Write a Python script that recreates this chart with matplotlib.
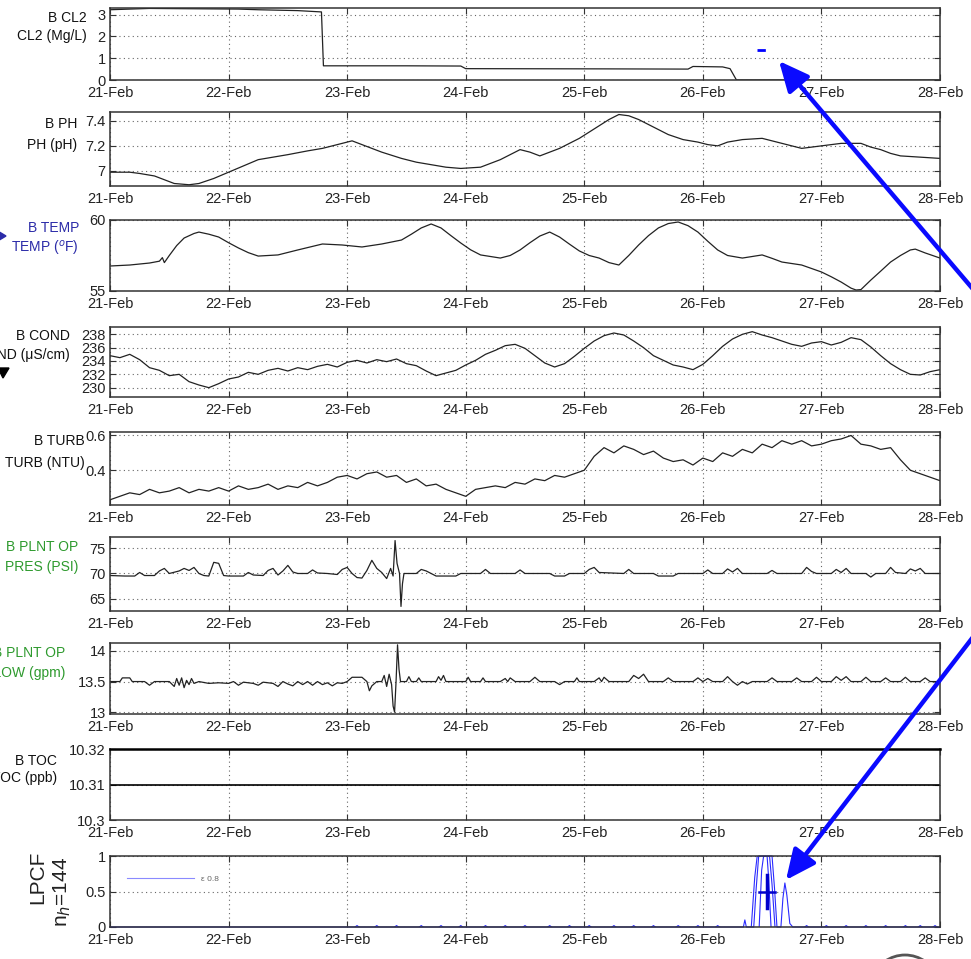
import matplotlib
matplotlib.use('Agg')
import matplotlib.pyplot as plt
import matplotlib.dates as mdates
from matplotlib.patches import FancyArrowPatch, Polygon, Arc
from matplotlib.ticker import FormatStrFormatter
from datetime import datetime
import numpy as np

plt.rcParams['font.family'] = ['Liberation Sans', 'DejaVu Sans']

# ---- data (hours after 21-Feb 00:00) ----
cl2_pts = [(0, 3.22), (4, 3.25), (8, 3.28), (14, 3.27), (20, 3.26), (26, 3.25), (30, 3.22),
           (34, 3.2), (38, 3.18), (42.8, 3.12), (43.2, 0.65), (60, 0.65), (71, 0.64),
           (72, 0.52), (100, 0.51), (117, 0.5), (118, 0.62), (124, 0.6), (125.5, 0.52),
           (126.8, 0.0), (168, 0.0)]
cl2_flag_h = [131.0, 133.2]
cl2_flag_v = [1.38, 1.38]

ph_pts = [(0, 6.99), (4, 6.99), (6, 6.98), (9, 6.96), (13, 6.90), (16, 6.89), (18, 6.90),
          (21, 6.94), (24, 6.99), (27, 7.04), (30, 7.09), (33, 7.11), (36, 7.13), (40, 7.16),
          (43, 7.18), (46, 7.21), (49, 7.24), (51, 7.21), (53, 7.18), (55, 7.15), (59, 7.10),
          (62, 7.07), (65, 7.05), (68, 7.03), (71, 7.02), (75, 7.03), (77, 7.06), (79, 7.09),
          (81, 7.13), (83, 7.17), (85, 7.15), (87, 7.12), (89, 7.15), (91, 7.18), (93, 7.22),
          (95, 7.26), (97, 7.31), (99, 7.36), (101, 7.41), (103, 7.45), (105, 7.44),
          (107, 7.41), (109, 7.37), (111, 7.33), (113, 7.29), (116, 7.25), (119, 7.23),
          (121, 7.21), (123, 7.20), (125, 7.23), (128, 7.25), (132, 7.26), (136, 7.22),
          (140, 7.18), (142, 7.19), (144, 7.20), (148, 7.22), (152, 7.22), (154, 7.19),
          (156, 7.17), (158, 7.14), (160, 7.12), (164, 7.11), (168, 7.10)]

temp_pts = [(0, 56.76), (4, 56.83), (8, 56.97), (10, 57.1), (10.6, 57.35), (11, 57.0),
            (12, 57.5), (13.5, 58.2), (15, 58.73), (17, 59.05), (18, 59.15), (20, 59.0),
            (22, 58.8), (24, 58.4), (26, 58.03), (28, 57.7), (30, 57.46), (34, 57.54),
            (38, 57.89), (43, 58.31), (47, 58.24), (51, 58.10), (55, 58.31), (59, 58.59),
            (61, 59.0), (63, 59.44), (65, 59.72), (67, 59.44), (69, 58.9), (71, 58.38),
            (73, 57.9), (75, 57.54), (79, 57.32), (81, 57.5), (83, 57.89), (85, 58.4),
            (87, 58.87), (89, 59.15), (91, 58.80), (93, 58.3), (95, 57.82), (97, 57.5),
            (99, 57.32), (101, 57.0), (103, 56.83), (105, 57.5), (107, 58.24), (109, 58.9),
            (111, 59.44), (113, 59.75), (115, 59.86), (117, 59.6), (119, 59.15), (121, 58.5),
            (123, 57.89), (125, 57.5), (128, 57.32), (132, 57.54), (134, 57.3), (136, 57.04),
            (140, 56.83), (144, 56.34), (146, 56.0), (148, 55.63), (150, 55.2), (151, 55.07),
            (152, 55.1), (154, 55.77), (156, 56.4), (158, 57.04), (160, 57.5), (162, 57.89),
            (163, 57.95), (165, 57.68), (168, 57.32)]

cond = [234.8, 234.5, 235.0, 234.2, 233.0, 232.6, 231.8, 232.0, 230.9, 230.4,
        230.0, 230.6, 231.3, 231.6, 232.3, 232.0, 232.6, 232.9, 232.5, 233.0,
        232.7, 233.2, 233.5, 233.1, 233.8, 234.1, 233.7, 234.2, 233.9, 234.3,
        233.6, 233.3, 232.5, 231.8, 232.2, 232.6, 233.4, 234.1, 235.0, 235.6,
        236.3, 236.5, 235.9, 234.8, 233.7, 233.1, 233.6, 234.7, 235.9, 237.0,
        237.8, 238.2, 237.9, 237.0, 236.0, 234.8, 234.1, 233.4, 233.1, 232.7,
        233.5, 234.8, 236.2, 237.3, 238.0, 238.4, 237.9, 237.5, 237.0, 236.5,
        236.2, 236.7, 236.9, 236.4, 236.8, 237.5, 237.2, 236.1, 234.8, 233.6,
        232.7, 232.0, 231.9, 232.4, 232.7]

turb = [0.23, 0.25, 0.27, 0.26, 0.29, 0.27, 0.28, 0.30, 0.27, 0.29,
        0.28, 0.30, 0.28, 0.31, 0.29, 0.30, 0.32, 0.29, 0.31, 0.30,
        0.33, 0.31, 0.33, 0.36, 0.37, 0.35, 0.38, 0.39, 0.36, 0.37,
        0.33, 0.35, 0.31, 0.32, 0.29, 0.27, 0.25, 0.29, 0.30, 0.31,
        0.30, 0.33, 0.32, 0.35, 0.34, 0.37, 0.36, 0.38, 0.40, 0.48,
        0.53, 0.50, 0.54, 0.52, 0.49, 0.51, 0.47, 0.45, 0.46, 0.43,
        0.47, 0.45, 0.50, 0.48, 0.52, 0.50, 0.55, 0.53, 0.57, 0.55,
        0.57, 0.54, 0.55, 0.57, 0.58, 0.60, 0.55, 0.54, 0.52, 0.53,
        0.46, 0.40, 0.38, 0.36, 0.34]
step_hours = np.arange(0, 169, 2)

pres_pts = [(0, 69.6), (3, 69.5), (5, 69.5), (6, 70.2), (7, 69.6), (9, 69.6), (10, 70.5),
            (11, 71.0), (12, 70.0), (14, 70.5), (15, 71.0), (16, 70.6), (17, 71.2), (18, 70.0),
            (19, 69.6), (20, 69.5), (21, 72.2), (22, 72.0), (23, 69.6), (24, 69.5), (27, 69.5),
            (28, 70.2), (29, 69.7), (31, 69.6), (32, 70.6), (33, 71.0), (34, 69.7), (35, 70.5),
            (36, 71.6), (37, 70.3), (38, 70.0), (40, 70.0), (41, 70.7), (42, 70.1), (44, 70.0),
            (46, 69.8), (47, 70.8), (48, 71.2), (49, 70.0), (50, 69.2), (51, 69.1), (52, 70.6),
            (53, 72.6), (54, 71.0), (55, 70.2), (56, 69.0), (56.8, 71.0), (57.3, 69.5),
            (57.7, 76.5), (58.1, 72.0), (58.6, 70.0), (58.9, 63.5), (59.2, 68.0), (59.5, 70.0),
            (62, 70.0), (63, 70.8), (64, 70.5), (65, 70.0), (66, 69.5), (70, 69.5), (71, 70.0),
            (75, 70.0), (76, 70.8), (77, 70.0), (82, 70.0), (83, 70.7), (84, 70.0), (89, 70.0),
            (90, 69.5), (92, 69.5), (93, 70.0), (96, 70.0), (97, 70.8), (98, 71.2), (99, 70.2),
            (104, 70.0), (105, 70.8), (106, 70.0), (110, 70.0), (111, 69.5), (114, 69.5),
            (115, 70.0), (120, 70.0), (121, 70.7), (122, 70.0), (124, 70.0), (125, 70.9),
            (126, 70.3), (127, 71.0), (128, 70.0), (133, 70.0), (134, 70.6), (135, 70.0),
            (140, 70.0), (141, 71.2), (142, 70.4), (143, 70.0), (146, 70.0), (147, 70.8),
            (148, 70.2), (149, 71.0), (150, 70.0), (153, 70.0), (154, 69.3), (155, 70.0),
            (157, 70.0), (158, 71.2), (159, 70.2), (161, 70.0), (162, 70.9), (163, 70.5),
            (164, 71.0), (165, 70.0), (168, 70.0)]

flow_pts = [(0, 13.5), (2, 13.5), (2.5, 13.56), (4, 13.56), (4.5, 13.5), (7, 13.5), (8, 13.44),
            (9, 13.5), (12, 13.5), (13, 13.42), (13.5, 13.55), (14, 13.44), (14.5, 13.56),
            (15, 13.4), (15.5, 13.52), (16, 13.45), (16.5, 13.55), (17, 13.47), (18, 13.5),
            (20, 13.47), (22, 13.48), (24, 13.47), (25, 13.5), (26, 13.44), (27, 13.49),
            (29, 13.47), (30, 13.44), (31, 13.49), (33, 13.47), (34, 13.42), (35, 13.5),
            (36, 13.46), (37, 13.43), (38, 13.5), (39, 13.45), (40, 13.5), (41, 13.44),
            (42, 13.5), (43, 13.45), (44, 13.48), (45, 13.43), (46, 13.48), (47, 13.47),
            (48, 13.5), (49, 13.57), (51, 13.57), (52, 13.5), (52.5, 13.35), (53, 13.43),
            (54, 13.5), (55, 13.5), (55.5, 13.6), (56, 13.42), (56.5, 13.62), (57, 13.45),
            (57.3, 13.1), (57.6, 13.0), (57.9, 13.5), (58.2, 14.1), (58.5, 13.7), (58.8, 13.5),
            (60, 13.5), (60.5, 13.58), (61, 13.5), (62, 13.5), (62.5, 13.56), (63, 13.5),
            (66, 13.5), (66.5, 13.58), (67, 13.52), (67.5, 13.6), (68, 13.5), (72, 13.5),
            (72.5, 13.57), (73, 13.5), (75, 13.5), (75.5, 13.56), (76, 13.5), (79, 13.5),
            (80, 13.55), (80.5, 13.5), (81, 13.56), (82, 13.5), (85, 13.5), (86, 13.57),
            (87, 13.5), (90, 13.5), (91, 13.45), (92, 13.5), (94, 13.5), (94.5, 13.56),
            (95, 13.5), (98, 13.5), (99, 13.56), (99.5, 13.5), (100, 13.57), (101, 13.5),
            (105, 13.5), (106, 13.6), (107, 13.55), (108, 13.62), (109, 13.5), (112, 13.5),
            (113, 13.56), (114, 13.5), (118, 13.5), (119, 13.56), (120, 13.5), (121, 13.55),
            (122, 13.5), (124, 13.5), (125, 13.58), (126, 13.5), (127, 13.44), (128, 13.5),
            (129, 13.46), (130, 13.5), (133, 13.5), (134, 13.56), (135, 13.5), (138, 13.5),
            (139, 13.56), (140, 13.5), (142, 13.5), (143, 13.57), (144, 13.5), (146, 13.5),
            (147, 13.58), (148, 13.52), (149, 13.58), (150, 13.5), (152, 13.5), (153, 13.57),
            (154, 13.5), (156, 13.5), (157, 13.56), (158, 13.5), (160, 13.5), (161, 13.57),
            (162, 13.5), (164, 13.5), (165, 13.56), (166, 13.5), (168, 13.5)]

toc_h = [0, 168]
toc_v = [10.31, 10.31]

lpcf_pts = [(0, 0), (128.2, 0), (128.5, 0.1), (128.8, 0), (130.3, 0), (130.8, 0.55), (131.3, 1.0),
            (134.0, 1.0), (134.5, 0.55), (135.0, 0), (135.8, 0), (136.2, 0.4), (136.6, 0.62),
            (137.0, 0.45), (137.6, 0.05), (138.2, 0), (168, 0)]
lpcf2_pts = [(129.8, 0), (130.5, 0.7), (131.0, 1.0), (133.5, 1.0), (134.0, 0.6), (134.6, 0)]
lpcf3_pts = [(131.4, 0), (131.9, 0.8), (132.3, 1.0), (133.0, 1.0), (133.3, 0.7), (133.8, 0)]
lpcf_blips = [50, 54, 58, 63, 67, 71, 76, 80, 84, 89, 93, 97, 102, 106, 110, 115, 119, 123,
              141, 145, 149, 153, 157, 161, 164, 167]
lpcf_center = (133.0, 0.5)
lpcf_xerr_h = 1.7
lpcf_yerr = 0.23

t0 = mdates.date2num(datetime(2011, 2, 21))


def tx(hours):
    return t0 + np.asarray(hours, dtype=float) / 24.0


def split(pts):
    h, v = zip(*pts)
    return tx(h), np.array(v)


W, H = 971, 959
fig = plt.figure(figsize=(W / 100, H / 100), dpi=100)


def fp(x, y):
    return (x / W, 1 - y / H)


# panel pixel boxes (top, bottom)
boxes = [(8, 80), (112, 186), (220, 291), (327, 397), (432, 505),
         (537, 611), (643, 714), (749, 820), (856, 927)]
ylims = [(0, 3.3), (6.88, 7.47), (55, 60), (228.6, 239.1), (0.2, 0.62),
         (62.6, 77.2), (12.97, 14.13), (10.3, 10.32), (0, 1)]
yticks = [[0, 1, 2, 3], [7, 7.2, 7.4], [55, 60], [230, 232, 234, 236, 238], [0.4, 0.6],
          [65, 70, 75], [13, 13.5, 14], [10.3, 10.31, 10.32], [0, 0.5, 1]]

axes = []
for (top, bot), yl, yt in zip(boxes, ylims, yticks):
    ax = fig.add_axes([110 / W, 1 - bot / H, 830 / W, (bot - top) / H])
    ax.set_xlim(t0, t0 + 7)
    ax.set_ylim(yl)
    ax.set_yticks(yt)
    ax.yaxis.set_major_formatter(FormatStrFormatter('%g'))
    ax.xaxis.set_major_locator(mdates.DayLocator())
    ax.xaxis.set_major_formatter(mdates.DateFormatter('%d-%b'))
    ax.grid(True, linestyle=(0, (1, 3)), color='#666666', linewidth=0.8)
    ax.tick_params(direction='in', top=True, right=True, length=4, width=0.8,
                   labelsize=10.5, labelcolor='#222222', color='#333333', pad=3)
    ax.tick_params(axis='x', pad=4)
    for s in ax.spines.values():
        s.set_color('#333333')
        s.set_linewidth(1.1)
    axes.append(ax)

line_kw = dict(color='#222222', linewidth=0.9)

x, y = split(cl2_pts)
axes[0].plot(x, y, **line_kw)
axes[0].plot(tx(cl2_flag_h), cl2_flag_v, color='blue', linewidth=2, linestyle=(0, (3, 1)))

x, y = split(ph_pts)
axes[1].plot(x, y, **line_kw)
x, y = split(temp_pts)
axes[2].plot(x, y, **line_kw)
axes[3].plot(tx(step_hours), cond, **line_kw)
axes[4].plot(tx(step_hours), turb, **line_kw)
x, y = split(pres_pts)
axes[5].plot(x, y, **line_kw)
x, y = split(flow_pts)
axes[6].plot(x, y, **line_kw)
axes[7].plot(tx(toc_h), toc_v, color='black', linewidth=1.2)
axes[7].spines['top'].set_linewidth(1.8)
axes[7].spines['top'].set_color('black')

ax = axes[8]
blue = '#2a2aff'
x, y = split(lpcf_pts)
ax.plot(x, y, color=blue, linewidth=0.8, label='\u03b5 0.8', clip_on=False)
for pts in (lpcf2_pts, lpcf3_pts):
    x, y = split(pts)
    ax.plot(x, y, color=blue, linewidth=0.8)
for b in lpcf_blips:
    ax.plot(tx([b - 0.4, b, b + 0.4]), [0, 0.02, 0], color=blue, linewidth=0.8)
ax.plot(tx([lpcf_center[0] - lpcf_xerr_h, lpcf_center[0] + lpcf_xerr_h]),
        [lpcf_center[1]] * 2, color='#0000cc', linewidth=1.8)
ax.plot(tx([lpcf_center[0]] * 2),
        [lpcf_center[1] - lpcf_yerr, lpcf_center[1] + lpcf_yerr], color='#0000cc', linewidth=2.5)
leg = ax.legend(loc='upper left', frameon=False, fontsize=6, handlelength=8,
                bbox_to_anchor=(0.012, 0.84), labelcolor='#666666')
for l in leg.get_lines():
    l.set_color('#8a8aff')

# left labels: (text line 1, text line 2, right edge px, y1, y2, color)
labels = [
    ('B CL2', 'CL2 (Mg/L)', 87, 18, 36, '#111111'),
    ('B PH', 'PH (pH)', 77, 124, 145, '#111111'),
    ('B TEMP', 'TEMP ($^{o}$F)', 79, 228, 249, '#2b2ba8'),
    ('B COND', 'COND (\u03bcS/cm)', 70, 336, 355, '#111111'),
    ('B TURB', 'TURB (NTU)', 85, 441, 463, '#111111'),
    ('B PLNT OP', 'PRES (PSI)', 78, 547, 567, '#2e9a2e'),
    ('B PLNT OP', 'FLOW (gpm)', 65, 653, 673, '#2e9a2e'),
    ('B TOC', 'TOC (ppb)', 57, 761, 778, '#111111'),
]
for t1, t2, xr, y1, y2, c in labels:
    fig.text(*fp(xr, y1), t1, ha='right', va='center', fontsize=10, color=c)
    fig.text(*fp(xr, y2), t2, ha='right', va='center', fontsize=10, color=c)

fig.text(*fp(38, 877), 'LPCF', rotation=90, ha='center', va='center', fontsize=15, color='#222222')
fig.text(*fp(62, 892), 'n$_h$=144', rotation=90, ha='center', va='center', fontsize=15,
         color='#222222')

# arrows and partial markers
for tail, head in [((995, 315), (779, 61)), ((990, 615), (786, 880))]:
    arr = FancyArrowPatch(fp(*tail), fp(*head), transform=fig.transFigure,
                          arrowstyle='-|>,head_length=1.3,head_width=0.6', mutation_scale=14,
                          shrinkA=0, shrinkB=0, linewidth=3.2, color='#0a0aff')
    fig.add_artist(arr)
fig.add_artist(Polygon([fp(-4, 230), fp(6, 236), fp(-4, 242)], closed=True,
                       transform=fig.transFigure, color='#2b2ba8'))
fig.add_artist(Polygon([fp(-2, 368), fp(9, 368), fp(3, 378)], closed=True,
                       transform=fig.transFigure, color='black'))
fig.add_artist(Arc(fp(905, 990), 70 / W, 70 / H, theta1=55, theta2=125,
                   transform=fig.transFigure, color='#555555', linewidth=2))

fig.savefig('out.png', dpi=100)
